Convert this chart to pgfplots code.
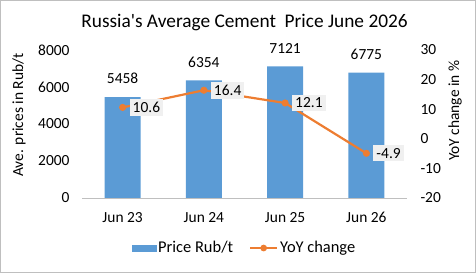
\documentclass[border=0pt]{standalone}
\usepackage{fontspec}
\setmainfont{Carlito}
\newfontfamily\plainfont{Carlito}
\usepackage{pgfplots}
\pgfplotsset{compat=1.18}
\definecolor{barblue}{HTML}{5B9BD5}
\definecolor{lineorange}{HTML}{ED7D31}
\pgfplotstableread{
x price
0 5458
1 6354
2 7121
3 6775
}\pricedata
\pgfplotstableread{
x yoy lab
0 10.6 10.6
1 16.4 16.4
2 12.1 12.1
3 -4.9 -4.9
}\yoydata
\begin{document}
\begin{tikzpicture}
\pgfplotsset{every axis/.append style={font=\fontsize{15.5}{18}\selectfont}}
\begin{axis}[
  at={(82bp,75bp)}, anchor=south west,
  scale only axis, width=325bp, height=148bp,
  xmin=-0.5, xmax=3.5, ymin=0, ymax=8000,
  axis line style={draw=none}, tick style={draw=none},
  xtick={0,1,2,3}, xticklabels={Jun 23,Jun 24,Jun 25,Jun 26},
  xticklabel style={yshift=-11bp},
  ytick={0,2000,4000,6000,8000},
  yticklabel style={xshift=-9bp},
  scaled y ticks=false,
  /pgf/number format/assume math mode=true,
  /pgf/number format/1000 sep={},
  ylabel={Ave. prices in Rub/t},
  ylabel style={at={(axis description cs:-0.194,0.56)}, anchor=center},
  clip=false,
]
\draw[black!25, line width=0.8pt] (axis cs:-0.5,0) -- (axis cs:3.5,0);
\addplot[ybar, bar width=36bp, fill=barblue, draw=none,
  nodes near coords, nodes near coords style={black, inner sep=5bp, yshift=8bp}]
  table[x=x,y=price]{\pricedata};
\end{axis}
\begin{axis}[
  at={(82bp,75bp)}, anchor=south west,
  scale only axis, width=325bp, height=148bp,
  xmin=-0.5, xmax=3.5, ymin=-20, ymax=30,
  axis x line=none, axis y line*=right,
  axis line style={draw=none}, tick style={draw=none},
  ytick={-20,-10,0,10,20,30},
  yticklabel style={anchor=west, xshift=10bp},
  /pgf/number format/assume math mode=true,
  ylabel={YoY change in \%},
  ylabel style={at={(axis description cs:1.148,0.59)}, anchor=center},
  clip=false,
  legend style={at={(0.5,-0.338)}, anchor=center, draw=none, fill=none,
    legend columns=2, /tikz/every even column/.append style={column sep=14bp},
    font=\fontsize{16.5}{19}\selectfont},
  legend cell align=left,
]
\addlegendimage{area legend, legend image code/.code={\fill[barblue] (0cm,-0.1cm) rectangle (0.85cm,0.1cm);}}
\addlegendentry{Price Rub/t}
\addplot[lineorange, line width=2.2pt, mark=*, mark size=2.4pt,
  point meta=explicit symbolic,
  nodes near coords,
  nodes near coords style={anchor=west, xshift=6bp, fill=black!6, text=black, inner sep=3bp, font=\fontsize{15.5}{18}\selectfont},
  legend image code/.code={\draw[lineorange, line width=2.2pt] (0cm,0cm) -- (0.95cm,0cm); \fill[lineorange] (0.475cm,0cm) circle (2.2pt);}]
  table[x=x,y=yoy,meta=lab]{\yoydata};
\addlegendentry{YoY change}
\end{axis}
\node[font=\plainfont\fontsize{19.4}{22}\selectfont] at (244.5bp,250bp) {Russia's Average Cement\ \ Price June 2026};
\draw[black!25] (0.5bp,0.5bp) rectangle (475.5bp,272.5bp);
\pgfresetboundingbox
\path[use as bounding box] (0,0) rectangle (476bp,273bp);
\end{tikzpicture}
\end{document}
